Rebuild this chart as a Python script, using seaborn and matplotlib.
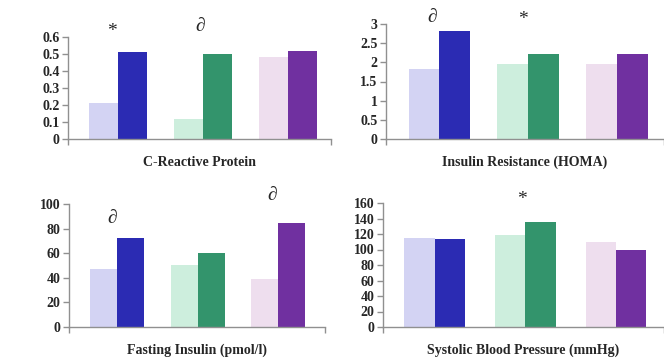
import matplotlib
matplotlib.use("Agg")
import matplotlib.pyplot as plt
import seaborn as sns
import pandas as pd

# ---------------- data ----------------
groups = ["Group 1", "Group 2", "Group 3"]
phases = ["Before", "After"]

crp_before = [0.21, 0.12, 0.48]
crp_after = [0.51, 0.50, 0.52]
homa_before = [1.83, 1.96, 1.96]
homa_after = [2.83, 2.22, 2.22]
insulin_before = [47.4, 50.1, 39.3]
insulin_after = [72.4, 59.9, 84.8]
sbp_before = [115, 118.5, 110]
sbp_after = [114, 136, 100]

titles = ["C-Reactive Protein", "Insulin Resistance (HOMA)",
          "Fasting Insulin (pmol/l)", "Systolic Blood Pressure (mmHg)"]

crp_ticks = [0, 0.1, 0.2, 0.3, 0.4, 0.5, 0.6]
crp_ticklabels = ["0", "0.1", "0.2", "0.3", "0.4", "0.5", "0.6"]
homa_ticks = [0, 0.5, 1, 1.5, 2, 2.5, 3]
homa_ticklabels = ["0", "0.5", "1", "1.5", "2", "2.5", "3"]
insulin_ticks = [0, 20, 40, 60, 80, 100]
insulin_ticklabels = ["0", "20", "40", "60", "80", "100"]
sbp_ticks = [0, 20, 40, 60, 80, 100, 120, 140, 160]
sbp_ticklabels = ["0", "20", "40", "60", "80", "100", "120", "140", "160"]

# significance markers: (symbol, group index offset, y value)
crp_marks = [("*", -0.07, 0.63), ("\u2202", 0.97, 0.66)]
homa_marks = [("\u2202", -0.08, 3.18), ("*", 0.94, 3.12)]
insulin_marks = [("\u2202", -0.06, 88), ("\u2202", 1.93, 107)]
sbp_marks = [("*", 0.96, 164)]

light_colors = ["#D3D3F3", "#CDEEDD", "#EEDEEE"]
dark_colors = ["#2B2BB3", "#33946C", "#7030A0"]

# ---------------- style ----------------
sns.set_style("white")
plt.rcParams["font.family"] = ["Liberation Serif", "DejaVu Serif"]
plt.rcParams["font.weight"] = "bold"

W, H = 664, 360
fig = plt.figure(figsize=(W / 100, H / 100), dpi=100)

# (left, right, top, bottom) in pixels
boxes = [(68, 331, 37, 139), (386, 664, 24, 139),
         (69, 325, 204, 327), (383, 664, 203, 327)]
xlims = [(-0.59, 2.505), (-0.6, 2.53), (-0.6, 2.58), (-0.57, 2.53)]
widths = [0.69, 0.69, 0.67, 0.67]

panels = [
    (crp_before, crp_after, crp_ticks, crp_ticklabels, crp_marks),
    (homa_before, homa_after, homa_ticks, homa_ticklabels, homa_marks),
    (insulin_before, insulin_after, insulin_ticks, insulin_ticklabels, insulin_marks),
    (sbp_before, sbp_after, sbp_ticks, sbp_ticklabels, sbp_marks),
]

grey = "#909090"
for i, (before, after, ticks, ticklabels, marks) in enumerate(panels):
    l, r, t, b = boxes[i]
    ax = fig.add_axes([l / W, 1 - b / H, (r - l) / W, (b - t) / H])
    df = pd.DataFrame({
        "group": groups * 2,
        "phase": [phases[0]] * 3 + [phases[1]] * 3,
        "value": list(before) + list(after),
    })
    sns.barplot(data=df, x="group", y="value", hue="phase", hue_order=phases,
                ax=ax, width=widths[i], saturation=1, legend=False,
                errorbar=None)
    for j, bar in enumerate(ax.containers[0]):
        bar.set_facecolor(light_colors[j])
        bar.set_edgecolor("none")
    for j, bar in enumerate(ax.containers[1]):
        bar.set_facecolor(dark_colors[j])
        bar.set_edgecolor("none")

    ax.set_xlim(*xlims[i])
    ax.set_ylim(ticks[0], ticks[-1])
    ax.set_yticks(ticks)
    ax.set_yticklabels(ticklabels, fontweight="bold")
    ax.set_xticks(list(xlims[i]))
    ax.set_xticklabels(["", ""])
    ax.tick_params(axis="y", direction="out", length=4, width=1, color=grey,
                   pad=2, labelsize=10, left=True)
    ax.tick_params(axis="x", direction="out", length=4, width=1, color=grey,
                   bottom=True)
    for s in ["top", "right"]:
        ax.spines[s].set_visible(False)
    for s in ["left", "bottom"]:
        ax.spines[s].set_color(grey)
        ax.spines[s].set_linewidth(1)
    ax.set_ylabel("")
    ax.set_xlabel(titles[i], fontsize=10, fontweight="bold", labelpad=4.5)

    for sym, xo, yv in marks:
        ax.text(xo, yv, sym, ha="center", va="center", fontsize=14,
                fontweight="normal", clip_on=False)

fig.savefig("out.png", dpi=100)
